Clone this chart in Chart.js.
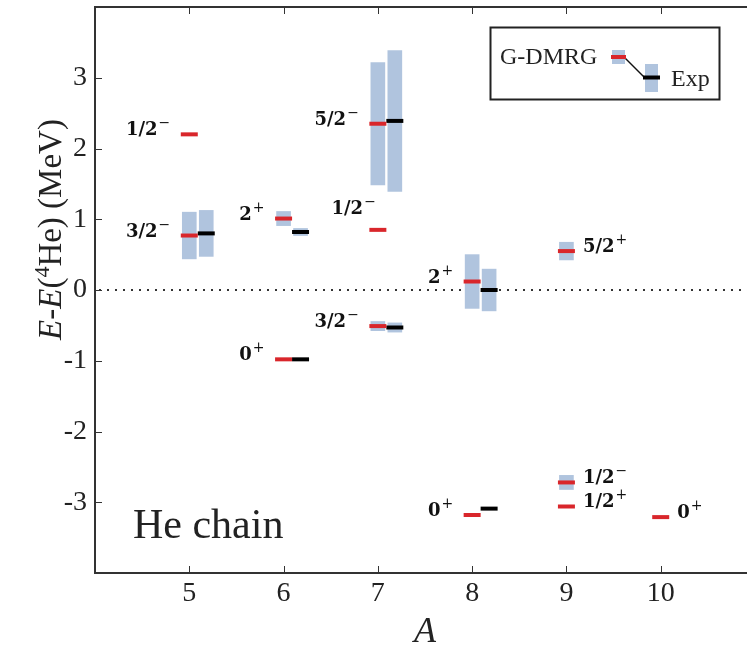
<!DOCTYPE html>
<html>
<head>
<meta charset="utf-8">
<title>He chain</title>
<script src="https://cdn.jsdelivr.net/npm/chart.js@4.4.1/dist/chart.umd.min.js"></script>
<style>
  html, body { margin: 0; padding: 0; background: #fff; overflow: hidden; }
  #wrap { position: relative; width: 765px; height: 646px; }
</style>
</head>
<body>
<div id="wrap"><canvas id="levels-chart"></canvas></div>
<script>
// Уровни G-DMRG (красные): массовое число, энергия, ширина
const calcA = [5, 5, 6, 6, 7, 7, 7, 8, 8, 9, 9, 9, 10];
const calcE = [2.20, 0.77, 1.01, -0.98, 2.35, 0.85, -0.51, 0.12, -3.18, 0.55, -2.72, -3.06, -3.21];
const calcWidth = [0, 0.66, 0.20, 0, 1.73, 0, 0.13, 0.76, 0, 0.25, 0.20, 0, 0];
const calcJpi = ['1/2-', '3/2-', '2+', '0+', '5/2-', '1/2-', '3/2-', '2+', '0+', '5/2+', '1/2-', '1/2+', '0+'];
const labelSide = ['left', 'left', 'left', 'left', 'left', 'above', 'left', 'left', 'left', 'right', 'right', 'right', 'right'];

// Экспериментальные уровни (черные)
const expA = [5, 6, 6, 7, 7, 8, 8];
const expE = [0.80, 0.82, -0.98, 2.39, -0.53, 0.00, -3.09];
const expWidth = [0.65, 0.10, 0, 1.99, 0.13, 0.59, 0];

// Подписи осей
const xTickValues = [5, 6, 7, 8, 9, 10];
const yTickValues = [-3, -2, -1, 0, 1, 2, 3];

const EXP_SHIFT = 0.18;   // сдвиг экспериментальной колонки вправо
const RED = '#d9262b';
const BOX = '#b0c4de';
const INK = '#222';

function boxes(aList, eList, wList, shift) {
    const out = [];
    aList.forEach((a, i) => {
        if (wList[i] > 0) {
            out.push({ x: a + shift, y: [eList[i] - wList[i] / 2, eList[i] + wList[i] / 2] });
        }
    });
    return out;
}

function levels(aList, eList, shift) {
    return aList.map((a, i) => ({ x: a + shift, y: eList[i] }));
}

function drawSpin(ctx, label, x, y, side) {
    const main = label.slice(0, -1);
    const sign = label.slice(-1) === '-' ? '\u2212' : '+';
    ctx.font = 'bold 18px "DejaVu Serif"';
    const w1 = ctx.measureText(main).width;
    ctx.font = '14px "DejaVu Serif"';
    const w2 = ctx.measureText(sign).width;
    const x0 = side === 'right' ? x : x - w1 - w2 - 1;
    ctx.fillStyle = '#111';
    ctx.textAlign = 'left';
    ctx.textBaseline = 'alphabetic';
    ctx.font = 'bold 18px "DejaVu Serif"';
    ctx.fillText(main, x0, y);
    ctx.font = '14px "DejaVu Serif"';
    ctx.fillText(sign, x0 + w1 + 1, y - 8);
}

const framePlugin = {
    id: 'frame',
    beforeDatasetsDraw(chart) {
        const { ctx, chartArea, scales } = chart;
        const y0 = scales.y.getPixelForValue(0);
        ctx.save();
        ctx.strokeStyle = '#333';
        ctx.lineWidth = 1.8;
        ctx.setLineDash([2, 6]);
        ctx.beginPath();
        ctx.moveTo(chartArea.left + 4, y0);
        ctx.lineTo(chartArea.right, y0);
        ctx.stroke();
        ctx.restore();
    },
    afterDraw(chart) {
        const { ctx, chartArea: ca, scales } = chart;
        const xs = scales.x, ys = scales.y;
        ctx.save();

        // рамка и засечки внутрь
        ctx.strokeStyle = '#333';
        ctx.lineWidth = 2;
        ctx.strokeRect(ca.left, ca.top, ca.right - ca.left, ca.bottom - ca.top);
        ctx.lineWidth = 1;
        ctx.beginPath();
        xTickValues.forEach(v => {
            const px = Math.round(xs.getPixelForValue(v)) + 0.5;
            ctx.moveTo(px, ca.bottom); ctx.lineTo(px, ca.bottom - 7);
            ctx.moveTo(px, ca.top); ctx.lineTo(px, ca.top + 7);
        });
        yTickValues.forEach(v => {
            const py = Math.round(ys.getPixelForValue(v)) + 0.5;
            ctx.moveTo(ca.left, py); ctx.lineTo(ca.left + 7, py);
            ctx.moveTo(ca.right, py); ctx.lineTo(ca.right - 7, py);
        });
        ctx.stroke();

        // подписи состояний
        calcA.forEach((a, i) => {
            const px = xs.getPixelForValue(a);
            const py = ys.getPixelForValue(calcE[i]);
            const side = labelSide[i];
            if (side === 'right') drawSpin(ctx, calcJpi[i], px + 16.5, py + 1, 'right');
            else if (side === 'above') drawSpin(ctx, calcJpi[i], px - 2, py - 16, 'left');
            else drawSpin(ctx, calcJpi[i], px - 19, py + 1, 'left');
        });

        // легенда
        ctx.lineWidth = 2;
        ctx.strokeStyle = INK;
        ctx.strokeRect(490.5, 27.5, 229, 72);
        ctx.fillStyle = INK;
        ctx.font = '24px "Liberation Serif"';
        ctx.textAlign = 'left';
        ctx.textBaseline = 'alphabetic';
        ctx.fillText('G-DMRG', 500, 64);
        ctx.fillText('Exp', 671, 86);
        ctx.fillStyle = BOX;
        ctx.fillRect(612, 50, 13, 14);
        ctx.fillRect(645, 64, 13, 28);
        ctx.lineWidth = 1.5;
        ctx.strokeStyle = '#111';
        ctx.beginPath();
        ctx.moveTo(625, 58); ctx.lineTo(644, 77);
        ctx.stroke();
        ctx.lineWidth = 4;
        ctx.strokeStyle = RED;
        ctx.beginPath(); ctx.moveTo(611, 57); ctx.lineTo(626, 57); ctx.stroke();
        ctx.strokeStyle = '#000';
        ctx.beginPath(); ctx.moveTo(643, 77.5); ctx.lineTo(660, 77.5); ctx.stroke();

        // надпись "He chain"
        ctx.fillStyle = INK;
        ctx.font = '42px "Liberation Serif"';
        ctx.fillText('He chain', 133, 538);

        // подпись оси X
        ctx.font = 'italic 36px "Liberation Serif"';
        ctx.textAlign = 'center';
        ctx.fillText('A', (ca.left + ca.right) / 2, 642);

        // подпись оси Y: E-E(4He) (MeV)
        const parts = [
            ['E', 'italic 33px "Liberation Serif"', 0],
            ['-', '33px "Liberation Serif"', 0],
            ['E', 'italic 33px "Liberation Serif"', 0],
            ['(', '33px "Liberation Serif"', 0],
            ['4', '22px "Liberation Serif"', -12],
            ['He) (MeV)', '33px "Liberation Serif"', 0]
        ];
        let total = 0;
        parts.forEach(p => { ctx.font = p[1]; total += ctx.measureText(p[0]).width; });
        ctx.translate(61, 229.5);
        ctx.rotate(-Math.PI / 2);
        ctx.textAlign = 'left';
        let cx = -total / 2;
        parts.forEach(p => {
            ctx.font = p[1];
            ctx.fillText(p[0], cx, p[2]);
            cx += ctx.measureText(p[0]).width;
        });
        ctx.restore();
    }
};

const tickFont = { family: 'Liberation Serif', size: 28 };

const ctx = document.getElementById('levels-chart').getContext('2d');

const levelChart = new Chart(ctx, {
    type: 'bar',
    data: {
        datasets: [
            {
                label: 'G-DMRG width',
                data: boxes(calcA, calcE, calcWidth, 0),
                backgroundColor: BOX,
                barThickness: 14,
                grouped: false,
                order: 3
            },
            {
                label: 'Exp width',
                data: boxes(expA, expE, expWidth, EXP_SHIFT),
                backgroundColor: BOX,
                barThickness: 14,
                grouped: false,
                order: 3
            },
            {
                type: 'scatter',
                label: 'G-DMRG',
                data: levels(calcA, calcE, 0),
                pointStyle: 'line',
                pointRadius: 8.5,
                borderColor: RED,
                pointBorderColor: RED,
                borderWidth: 4,
                order: 1
            },
            {
                type: 'scatter',
                label: 'Exp',
                data: levels(expA, expE, EXP_SHIFT),
                pointStyle: 'line',
                pointRadius: 8.5,
                borderColor: '#000',
                pointBorderColor: '#000',
                borderWidth: 4,
                order: 1
            }
        ]
    },
    options: {
        responsive: true,
        maintainAspectRatio: false,
        animation: false,
        events: [],
        layout: { autoPadding: false, padding: { left: 0, top: 7, right: 10, bottom: 0 } },
        plugins: {
            legend: { display: false },
            tooltip: { enabled: false }
        },
        scales: {
            x: {
                type: 'linear',
                min: 4,
                max: 11,
                offset: false,
                grid: { display: false, drawTicks: false },
                border: { display: false },
                afterBuildTicks: s => { s.ticks = xTickValues.map(v => ({ value: v })); },
                afterFit: s => { s.height = 73; s.paddingLeft = 0; s.paddingRight = 0; },
                ticks: { font: tickFont, color: INK, padding: 4, maxRotation: 0 }
            },
            y: {
                type: 'linear',
                min: -4,
                max: 4,
                grid: { display: false, drawTicks: false },
                border: { display: false },
                afterBuildTicks: s => { s.ticks = yTickValues.map(v => ({ value: v })); },
                afterFit: s => { s.width = 95; s.paddingTop = 0; s.paddingBottom = 0; },
                ticks: { font: tickFont, color: INK, padding: 8 }
            }
        }
    },
    plugins: [framePlugin]
});
</script>
</body>
</html>
